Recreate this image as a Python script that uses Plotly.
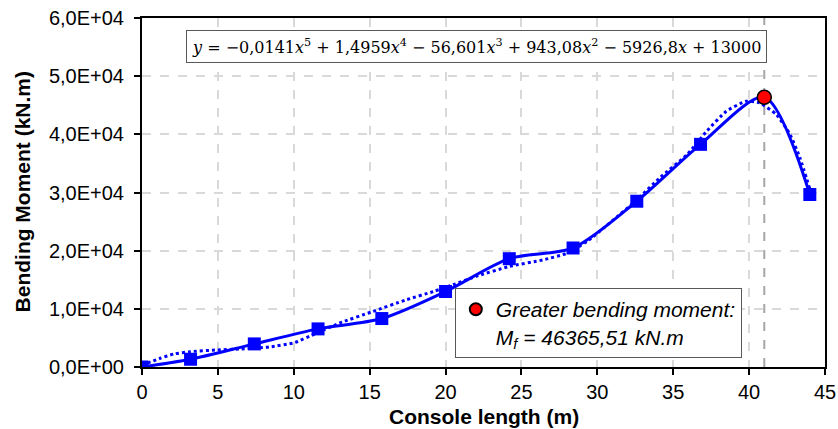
import plotly.graph_objects as go

# Data
length_m = [0.0, 3.2, 7.4, 11.6, 15.8, 20.0, 24.2, 28.4, 32.6, 36.8, 41.0, 44.0]
moment_kNm = [0, 1330, 3970, 6550, 8330, 12980, 18620, 20460, 28500, 38280, 46365.51, 29660]
max_x = [41.0]
max_y = [46365.51]

# polynomial trendline (order 5) as drawn in the reference
trend_x = [0.0, 1.2, 2.1, 3.2, 4.9, 6.5, 8.4, 10.0, 11.5, 13.0, 15.2, 17.4, 19.2, 20.5,
           22.0, 24.2, 26.4, 28.0, 29.3, 30.8, 32.6, 34.1, 35.9, 37.2, 38.5, 39.8, 40.7,
           41.8, 42.7, 43.35, 44.0]
trend_y = [300, 1500, 2240, 2640, 2930, 3100, 3450, 4150, 5810, 7530, 9540, 11550, 12980, 14140,
           15570, 17290, 18400, 19550, 21550, 24720, 28740, 32480, 36500, 40520, 43970, 45690, 45400,
           43400, 39950, 35940, 30600]

y_tickvals = [0, 10000, 20000, 30000, 40000, 50000, 60000]
y_ticktext = ["0,0E+00", "1,0E+04", "2,0E+04", "3,0E+04", "4,0E+04", "5,0E+04", "6,0E+04"]
x_tickvals = [0, 5, 10, 15, 20, 25, 30, 35, 40, 45]

# marker points (all except the maximum)
sq_x = [x for x, y in zip(length_m, moment_kNm) if x != max_x[0]]
sq_y = [y for x, y in zip(length_m, moment_kNm) if x != max_x[0]]

BLUE = "#0000FF"
FONT = "Liberation Sans, Arial, sans-serif"

fig = go.Figure()

# vertical dashed line at the maximum
fig.add_trace(go.Scatter(x=[max_x[0], max_x[0]], y=[0, 60000], mode="lines",
                         line=dict(color="#a6a6a6", width=2, dash="dash"),
                         showlegend=False, hoverinfo="skip"))

# trendline
fig.add_trace(go.Scatter(x=trend_x, y=trend_y, mode="lines",
                         line=dict(color=BLUE, width=3, dash="dot", shape="spline", smoothing=0.5),
                         showlegend=False))

# smoothed data line
fig.add_trace(go.Scatter(x=length_m, y=moment_kNm, mode="lines",
                         line=dict(color=BLUE, width=3, shape="spline", smoothing=0.8),
                         showlegend=False))

# square markers
fig.add_trace(go.Scatter(x=sq_x, y=sq_y, mode="markers",
                         marker=dict(symbol="square", size=13, color=BLUE),
                         showlegend=False))

# maximum point
fig.add_trace(go.Scatter(x=max_x, y=max_y, mode="markers",
                         marker=dict(symbol="circle", size=14, color="#ff0000",
                                     line=dict(color="black", width=1.5)),
                         name="Greater bending moment:<br>M<sub>f</sub> = 46365,51 kN.m",
                         showlegend=True))

eq = ("<i>y</i> = −0,0141<i>x</i><sup>5</sup> + 1,4959<i>x</i><sup>4</sup> − 56,601<i>x</i><sup>3</sup>"
      " + 943,08<i>x</i><sup>2</sup> − 5926,8<i>x</i> + 13000")
fig.add_annotation(text=eq, xref="paper", yref="paper", x=0.4898, y=0.918,
                   xanchor="center", yanchor="middle", showarrow=False,
                   font=dict(family="DejaVu Serif, serif", size=16, color="black"),
                   bgcolor="white", bordercolor="#595959", borderwidth=1, borderpad=5)

# axis titles
fig.add_annotation(text="<b>Console length (m)</b>", xref="paper", yref="paper",
                   x=0.501, y=-0.143, xanchor="center", yanchor="middle", showarrow=False,
                   font=dict(family=FONT, size=21, color="black"))
fig.add_annotation(text="<b>Bending Moment (kN.m)</b>", xref="paper", yref="paper",
                   x=-0.1757, y=0.503, xanchor="center", yanchor="middle", showarrow=False,
                   textangle=-90, font=dict(family=FONT, size=21, color="black"))

fig.update_layout(
    width=838, height=429,
    margin=dict(l=142, r=13, t=18, b=62),
    paper_bgcolor="white", plot_bgcolor="white",
    font=dict(family=FONT, color="black", size=20),
    legend=dict(x=0.458, y=0.226, xanchor="left", yanchor="top",
                bgcolor="white", bordercolor="#595959", borderwidth=1,
                font=dict(family=FONT, size=21, style="italic", color="black"),
                valign="top", itemsizing="constant", itemwidth=30),
)

fig.update_xaxes(range=[0, 45], tickvals=x_tickvals, ticks="outside", ticklen=6,
                 tickcolor="black", tickwidth=1.5, automargin=False,
                 ticklabelstandoff=0, ticklabeloverflow="allow",
                 showline=True, linecolor="black", linewidth=2, mirror=True,
                 showgrid=True, gridcolor="#d9d9d9", griddash="dash", gridwidth=1.5,
                 zeroline=False, tickfont=dict(size=20))
fig.update_yaxes(range=[0, 60000], tickvals=y_tickvals, ticktext=y_ticktext,
                 ticks="outside", ticklen=6, tickcolor="black", tickwidth=1.5, automargin=False,
                 ticklabelstandoff=6, ticklabeloverflow="allow",
                 showline=True, linecolor="black", linewidth=2, mirror=True,
                 showgrid=True, gridcolor="#d9d9d9", griddash="dash", gridwidth=1.5,
                 zeroline=False, tickfont=dict(size=20))

# remove the default page margin so the figure fills the window exactly
fig.write_html("out.html", config={"displayModeBar": False},
               post_script="document.body.style.margin='0';document.body.style.overflow='hidden';")
